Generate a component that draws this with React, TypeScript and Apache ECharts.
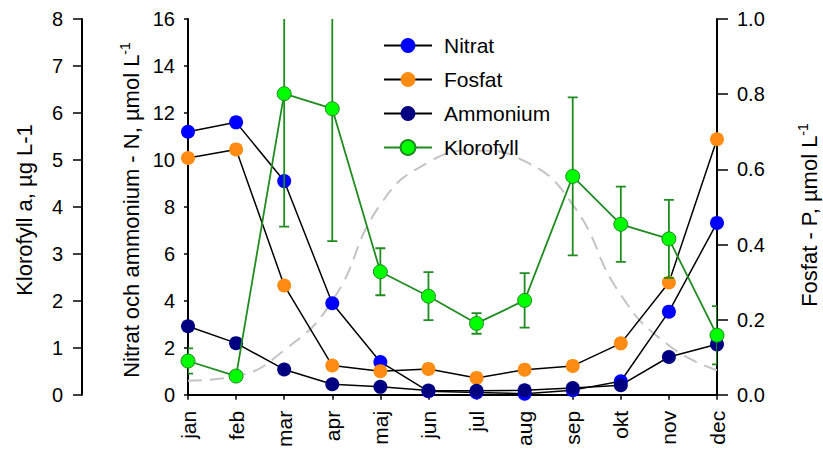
import React, { useEffect, useRef } from "react";
import * as echarts from "echarts";

// Months on the category axis
const months = ["jan", "feb", "mar", "apr", "maj", "jun", "jul", "aug", "sep", "okt", "nov", "dec"];

// Nitrat and ammonium, µmol N per litre (middle axis)
const nitrat = [11.2, 11.6, 9.1, 3.9, 1.4, 0.15, 0.1, 0.05, 0.2, 0.58, 3.54, 7.32];
const ammonium = [2.92, 2.2, 1.08, 0.45, 0.34, 0.18, 0.17, 0.19, 0.29, 0.41, 1.61, 2.15];

// Fosfat, µmol P per litre (right axis)
const fosfat = [0.63, 0.653, 0.291, 0.078, 0.063, 0.069, 0.045, 0.067, 0.077, 0.137, 0.299, 0.68];

// Klorofyll a, µg per litre (left axis), with error half-widths
const klorofyll = [0.72, 0.4, 6.41, 6.09, 2.62, 2.1, 1.52, 2.01, 4.65, 3.63, 3.32, 1.27];
const klorofyllErr = [0.27, 0.05, 2.83, 2.82, 0.5, 0.51, 0.22, 0.58, 1.68, 0.8, 0.83, 0.62];

// Grey dashed seasonal curve, drawn on the nitrat scale
const seasonCurve = [0.6, 0.8, 1.9, 4.0, 8.1, 9.9, 10.4, 9.95, 8.1, 4.25, 2.1, 1.05];

// Axis ranges and tick steps
const nitratAxis = { min: 0, max: 16, interval: 2 };
const klorofyllAxis = { min: 0, max: 8, interval: 1 };
const fosfatAxis = { min: 0, max: 1, interval: 0.2 };

const FONT = "Liberation Sans, Arial, sans-serif";
const GREEN_LINE = "#1f8c1f";
const GREEN_FILL = "#00ff00";

export default function App() {
  const ref = useRef<HTMLDivElement>(null);

  useEffect(() => {
    if (!ref.current) return;
    const chart = echarts.init(ref.current, undefined, { renderer: "svg" });

    const tickText = { color: "#000", fontSize: 20, fontFamily: FONT };
    const axisLine = { show: true, lineStyle: { color: "#000", width: 2 } };

    const errData = klorofyll.map((v, i) => [i, v - klorofyllErr[i], v + klorofyllErr[i]]);

    const titleRich = {
      a: { fontSize: 22, fontFamily: FONT, fill: "#000", lineHeight: 24, verticalAlign: "bottom" },
      s: { fontSize: 14, fontFamily: FONT, fill: "#000", lineHeight: 24, verticalAlign: "top" },
    };

    const option: any = {
      animation: false,
      backgroundColor: "#fff",
      textStyle: { fontFamily: FONT },
      grid: { left: 188, right: 106, top: 19, bottom: 53, containLabel: false },
      legend: {
        data: ["Nitrat", "Fosfat", "Ammonium", "Klorofyll"],
        orient: "vertical",
        left: 383,
        top: 35,
        padding: 0,
        itemWidth: 48,
        itemHeight: 18.5,
        itemGap: 13,
        textStyle: { color: "#000", fontSize: 21, fontFamily: FONT, padding: [0, 0, 0, 7] },
      },
      xAxis: [
        {
          type: "category",
          data: months,
          boundaryGap: false,
          axisLine,
          axisTick: { show: true, length: 5, lineStyle: { color: "#000", width: 1.5 } },
          axisLabel: { ...tickText, fontSize: 21, rotate: 90, margin: 16, interval: 0 },
          splitLine: { show: false },
        },
        {
          type: "category",
          data: months,
          position: "top",
          boundaryGap: false,
          axisLine: { show: true, lineStyle: { color: "#000", width: 1.5 } },
          axisTick: { show: false },
          axisLabel: { show: false },
          splitLine: { show: false },
        },
      ],
      yAxis: [
        {
          type: "value",
          position: "left",
          ...nitratAxis,
          axisLine,
          axisTick: { show: true, length: 4, lineStyle: { color: "#000", width: 1.5 } },
          axisLabel: { ...tickText, margin: 13 },
          splitLine: { show: false },
        },
        {
          type: "value",
          position: "left",
          offset: 106,
          ...klorofyllAxis,
          axisLine,
          axisTick: { show: true, length: 9, lineStyle: { color: "#000", width: 1.5 } },
          axisLabel: { ...tickText, margin: 19 },
          splitLine: { show: false },
        },
        {
          type: "value",
          position: "right",
          ...fosfatAxis,
          axisLine,
          axisTick: { show: true, length: 11, lineStyle: { color: "#000", width: 1.5 } },
          axisLabel: { ...tickText, margin: 20, formatter: (v: number) => v.toFixed(1) },
          splitLine: { show: false },
        },
      ],
      graphic: [
        {
          type: "text",
          x: 24,
          y: 210,
          rotation: Math.PI / 2,
          style: {
            text: "Klorofyll a, µg L-1",
            fontSize: 22,
            fontFamily: FONT,
            fill: "#000",
            align: "center",
            verticalAlign: "middle",
          },
        },
        {
          type: "text",
          x: 130,
          y: 210,
          rotation: Math.PI / 2,
          style: {
            text: "{a|Nitrat och ammonium - N, µmol L}{s|-1}",
            align: "center",
            verticalAlign: "middle",
            rich: titleRich,
          },
        },
        {
          type: "text",
          x: 808,
          y: 215,
          rotation: Math.PI / 2,
          style: {
            text: "{a|Fosfat - P, µmol L}{s|-1}",
            align: "center",
            verticalAlign: "middle",
            rich: titleRich,
          },
        },
      ],
      series: [
        {
          name: "kurva",
          type: "line",
          data: seasonCurve,
          yAxisIndex: 0,
          smooth: true,
          symbol: "none",
          silent: true,
          lineStyle: { color: "#c4c4c4", width: 2, type: [14, 8] },
          z: 1,
        },
        {
          name: "Nitrat",
          type: "line",
          data: nitrat,
          yAxisIndex: 0,
          symbol: "circle",
          symbolSize: 14,
          lineStyle: { color: "#000", width: 1.5 },
          itemStyle: { color: "#0000ff" },
          z: 2,
        },
        {
          name: "Fosfat",
          type: "line",
          data: fosfat,
          yAxisIndex: 2,
          symbol: "circle",
          symbolSize: 14,
          lineStyle: { color: "#000", width: 1.5 },
          itemStyle: { color: "#ff8c12" },
          z: 2,
        },
        {
          name: "Ammonium",
          type: "line",
          data: ammonium,
          yAxisIndex: 0,
          symbol: "circle",
          symbolSize: 14,
          lineStyle: { color: "#000", width: 1.5 },
          itemStyle: { color: "#000080" },
          z: 2,
        },
        {
          name: "Klorofyll-fel",
          type: "custom",
          data: errData,
          yAxisIndex: 1,
          clip: true,
          silent: true,
          encode: { x: 0, y: [1, 2] },
          z: 3,
          renderItem: (_params: any, api: any) => {
            const i = api.value(0);
            const lo = api.coord([i, api.value(1)]);
            const hi = api.coord([i, api.value(2)]);
            const w = 5;
            const style = { stroke: GREEN_LINE, lineWidth: 1.8 };
            return {
              type: "group",
              children: [
                { type: "line", shape: { x1: lo[0], y1: lo[1], x2: hi[0], y2: hi[1] }, style },
                { type: "line", shape: { x1: lo[0] - w, y1: lo[1], x2: lo[0] + w, y2: lo[1] }, style },
                { type: "line", shape: { x1: hi[0] - w, y1: hi[1], x2: hi[0] + w, y2: hi[1] }, style },
              ],
            };
          },
        },
        {
          name: "Klorofyll",
          type: "line",
          data: klorofyll,
          yAxisIndex: 1,
          symbol: "circle",
          symbolSize: 14,
          lineStyle: { color: GREEN_LINE, width: 1.8 },
          itemStyle: { color: GREEN_FILL, borderColor: GREEN_LINE, borderWidth: 1 },
          z: 4,
        },
      ],
    };

    chart.setOption(option);
    return () => chart.dispose();
  }, []);

  return (
    <div
      ref={ref}
      style={{ position: "fixed", left: 0, top: 0, width: 823, height: 450, background: "#fff" }}
    />
  );
}
